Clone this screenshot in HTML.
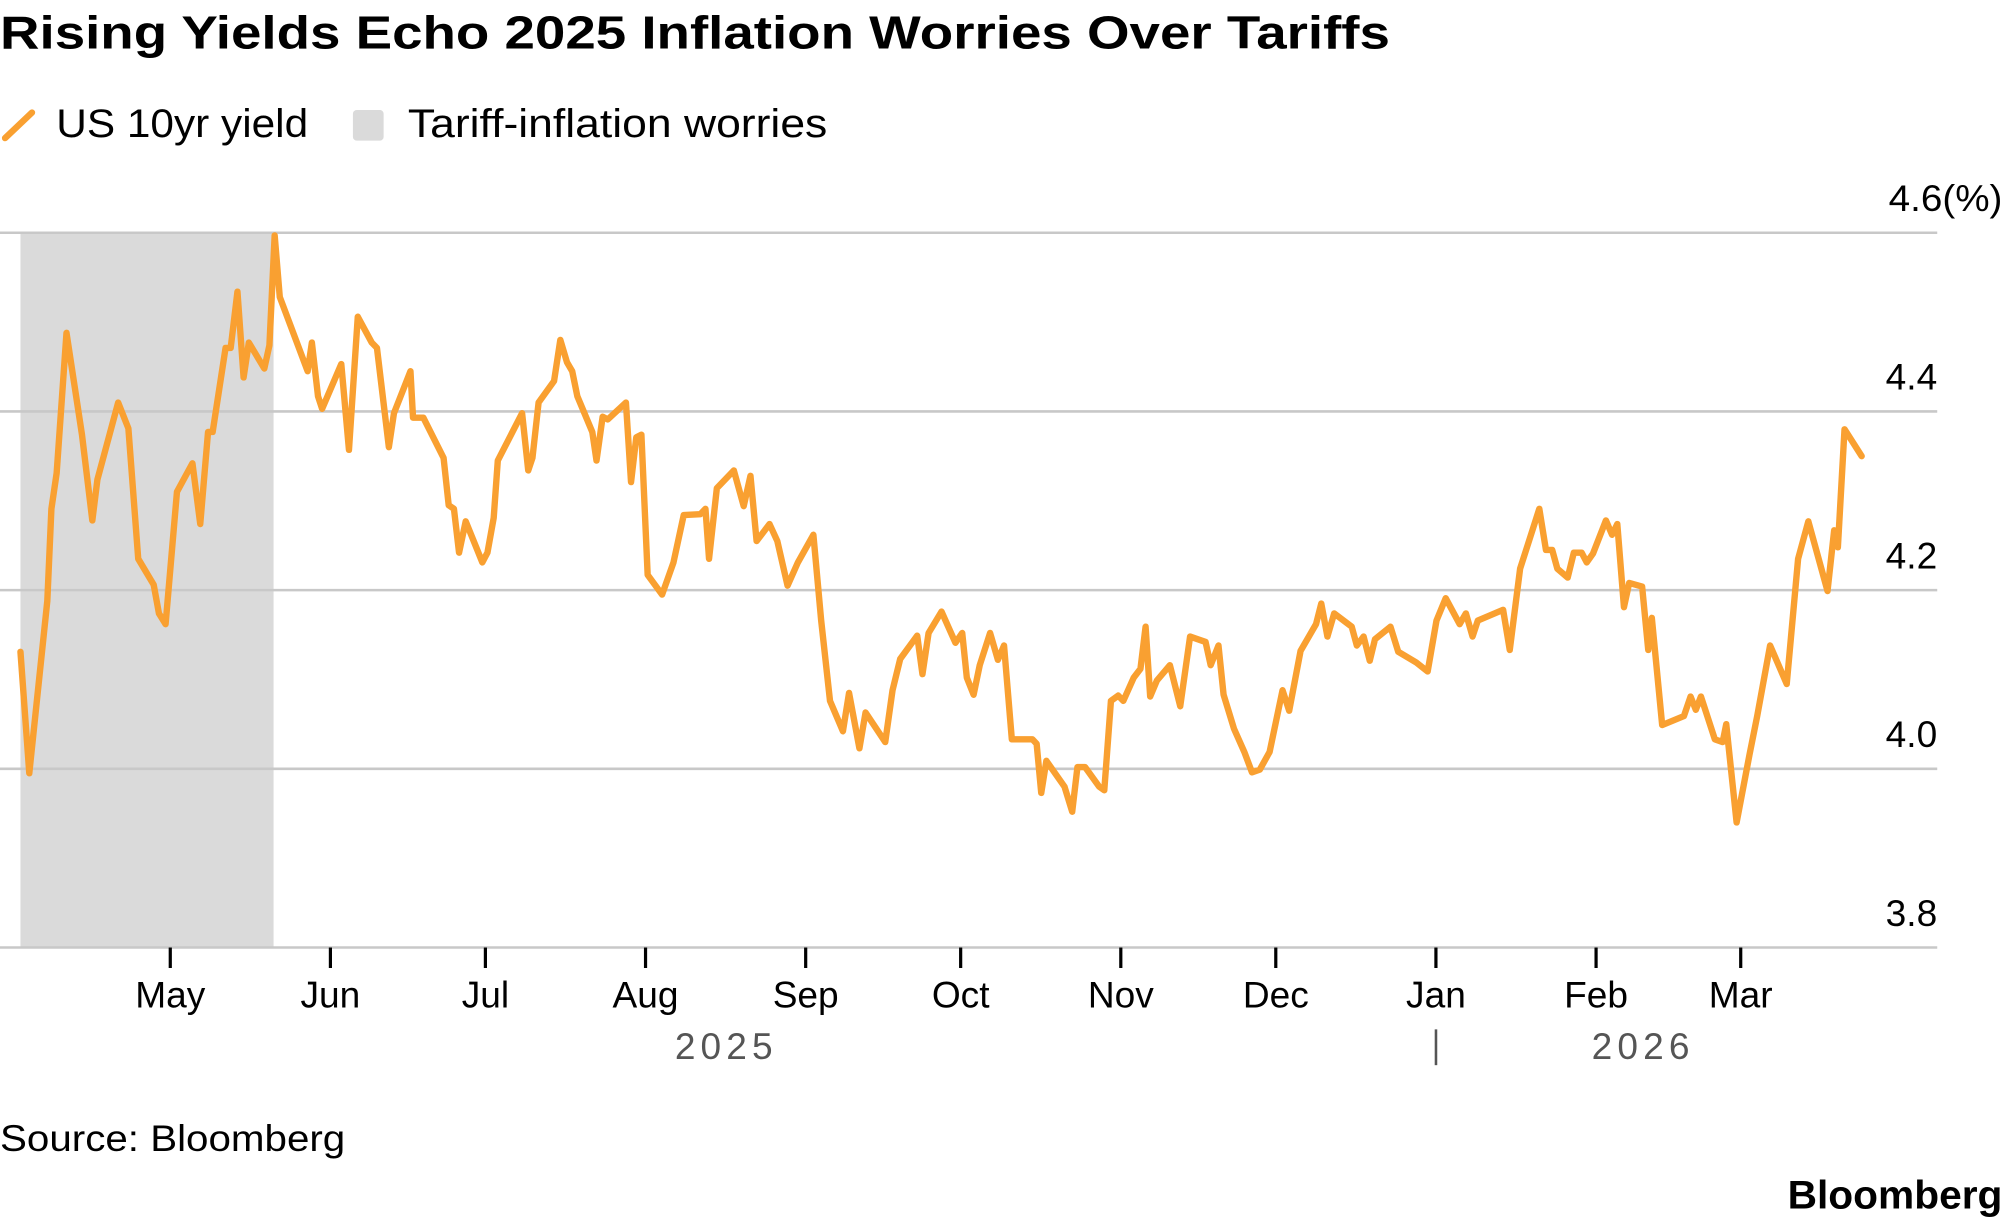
<!DOCTYPE html>
<html><head><meta charset="utf-8"><style>
html,body{margin:0;padding:0;background:#fff;}
svg{display:block;font-family:"Liberation Sans",sans-serif;}
</style></head><body>
<svg id="chart" width="2005" height="1224" viewBox="0 0 1568 957.2" xmlns="http://www.w3.org/2000/svg">
<text x="0" y="38" font-size="36" font-weight="bold" fill="#000" textLength="1087" lengthAdjust="spacingAndGlyphs">Rising Yields Echo 2025 Inflation Worries Over Tariffs</text>
<g>
<line x1="4" y1="108" x2="25" y2="88" stroke="#f9a031" stroke-width="5" stroke-linecap="round"/>
<text x="44" y="107" font-size="31" fill="#000" textLength="197" lengthAdjust="spacingAndGlyphs">US 10yr yield</text>
<rect x="276" y="86" width="24" height="24" rx="3" fill="#dadada"/>
<text x="319" y="107" font-size="31" fill="#000" textLength="328" lengthAdjust="spacingAndGlyphs">Tariff-inflation worries</text>
</g>
<g id="plot"></g>
<text x="568" y="828" font-size="29" fill="#555" text-anchor="middle" letter-spacing="4">2025</text>
<line x1="1123" y1="805" x2="1123" y2="833" stroke="#555" stroke-width="2"/>
<text x="1285" y="828" font-size="29" fill="#555" text-anchor="middle" letter-spacing="4">2026</text>
<text x="0" y="900" font-size="29" fill="#000" textLength="270" lengthAdjust="spacingAndGlyphs">Source: Bloomberg</text>
<text x="1398" y="945" font-size="31" font-weight="bold" fill="#000" textLength="168" lengthAdjust="spacingAndGlyphs">Bloomberg</text>
</svg>
<script>
// days since 2025-04-02
const days=[0,1.7,5.2,6.0,7.0,8.9,11.9,13.9,14.9,18.9,20.9,22.8,25.8,26.8,28.1,30.3,33.3,34.8,36.3,37.2,39.7,40.7,42.0,43.2,44.2,47.2,48.2,49.2,50.2,55.6,56.4,57.6,58.4,62.1,63.6,65.3,68.0,69.0,71.3,72.3,75.5,76.0,78.0,81.9,82.9,83.9,84.9,86.2,89.4,90.4,91.6,92.4,97.1,98.3,99.1,100.3,103.3,104.5,105.8,106.8,107.8,110.7,111.5,112.7,113.7,117.2,118.2,119.2,120.2,121.4,124.2,126.4,128.4,131.6,132.6,133.3,134.8,138.1,140.0,141.3,142.5,145.0,146.5,148.5,150.5,153.5,155.0,156.7,159.2,160.4,162.4,163.6,167.4,168.8,170.3,173.6,174.6,175.8,178.3,181.0,182.3,183.2,184.5,185.7,187.7,189.2,190.4,191.9,195.9,196.7,197.6,198.6,202.1,203.6,204.6,206.1,208.8,209.8,211.1,212.5,213.5,215.5,216.8,217.8,218.7,220.0,222.5,224.5,226.4,229.4,230.4,231.9,232.9,234.9,236.9,238.4,239.9,241.8,244.3,245.6,247.8,250.8,251.8,253.0,254.3,257.7,258.7,260.0,261.2,262.2,265.2,266.7,270.2,272.4,274.1,275.9,278.6,279.8,281.1,282.1,287.0,288.3,290.3,294.0,295.3,296.5,297.5,299.5,300.7,302.2,303.2,304.4,306.9,308.1,309.1,310.4,311.4,313.9,315.1,315.8,317.8,322.0,323.3,324.3,325.3,328.0,329.5,330.2,332.2,334.7,336.2,338.7,341.9,344.1,346.1,349.8,351.1,351.8,353.1,356.4];
const yields=[4.131,3.995,4.188,4.291,4.331,4.488,4.374,4.278,4.324,4.410,4.381,4.235,4.206,4.174,4.162,4.310,4.342,4.274,4.377,4.377,4.471,4.471,4.534,4.438,4.477,4.448,4.474,4.597,4.528,4.445,4.477,4.417,4.403,4.453,4.357,4.506,4.477,4.471,4.360,4.398,4.445,4.393,4.393,4.348,4.295,4.291,4.242,4.277,4.231,4.242,4.281,4.345,4.398,4.334,4.348,4.410,4.434,4.480,4.455,4.445,4.417,4.377,4.345,4.394,4.391,4.410,4.321,4.371,4.374,4.217,4.195,4.231,4.284,4.285,4.291,4.235,4.314,4.334,4.294,4.328,4.255,4.274,4.255,4.205,4.231,4.262,4.166,4.076,4.042,4.085,4.023,4.063,4.030,4.088,4.123,4.149,4.106,4.152,4.176,4.141,4.152,4.102,4.083,4.116,4.152,4.122,4.138,4.033,4.033,4.028,3.973,4.009,3.980,3.952,4.002,4.002,3.980,3.976,4.076,4.082,4.076,4.102,4.112,4.159,4.081,4.099,4.116,4.070,4.148,4.142,4.116,4.138,4.083,4.045,4.019,3.996,3.999,4.019,4.088,4.065,4.132,4.162,4.185,4.148,4.174,4.159,4.138,4.148,4.121,4.145,4.159,4.131,4.119,4.109,4.166,4.191,4.162,4.174,4.148,4.166,4.178,4.133,4.224,4.291,4.245,4.245,4.224,4.214,4.242,4.242,4.231,4.241,4.278,4.262,4.274,4.181,4.208,4.204,4.133,4.169,4.049,4.059,4.081,4.066,4.081,4.033,4.030,4.050,3.940,4.016,4.059,4.138,4.095,4.235,4.277,4.199,4.267,4.248,4.380,4.350];
const yTicks=[3.8,4.0,4.2,4.4,4.6];
const yTickLabels=["3.8","4.0","4.2","4.4","4.6(%)"];
const monthLabels=["May","Jun","Jul","Aug","Sep","Oct","Nov","Dec","Jan","Feb","Mar"];
const monthDays=[29,60,90,121,152,182,213,243,274,305,333];
const shadeStart=0, shadeEnd=49;

const NS="http://www.w3.org/2000/svg";
const g=document.getElementById('plot');
const X0=16, PXD=4.04, YB=741, YT=182;
const xs=d=>X0+d*PXD;
const ys=v=>YB-(v-3.8)/0.8*(YB-YT);
function mk(t,a){const e=document.createElementNS(NS,t);for(const k in a)e.setAttribute(k,a[k]);g.appendChild(e);return e;}

const sh=mk('rect',{x:xs(shadeStart),y:YT,width:xs(shadeEnd)-xs(shadeStart),height:YB-YT,fill:'#dadada'});



yTicks.forEach((v,i)=>{
  const l=mk('line',{x1:0,x2:1515,y1:ys(v),y2:ys(v),stroke:'#c8c8c8','stroke-width':2});
  
  
  const last=i===yTicks.length-1;
  const t=mk('text',{x:last?1566:1515,y:ys(v)-17,'font-size':29,fill:'#000','text-anchor':'end'});
  t.textContent=yTickLabels[i];
  if(last){t.setAttribute('textLength','89');t.setAttribute('lengthAdjust','spacingAndGlyphs');}
  
  
});

monthDays.forEach((d,i)=>{
  const x=xs(d);
  const tk=mk('line',{x1:x,x2:x,y1:YB,y2:YB+16,stroke:'#000','stroke-width':2.5});
  
  
  const t=mk('text',{x:x,y:788,'font-size':29,fill:'#000','text-anchor':'middle'});
  t.textContent=monthLabels[i];
  
  
});

const pts=days.map((d,i)=>xs(d).toFixed(1)+','+ys(yields[i]).toFixed(1)).join(' ');
const pl=mk('polyline',{points:pts,fill:'none',stroke:'#f9a031','stroke-width':5,'stroke-linejoin':'round','stroke-linecap':'round'});


</script>
</body></html>
